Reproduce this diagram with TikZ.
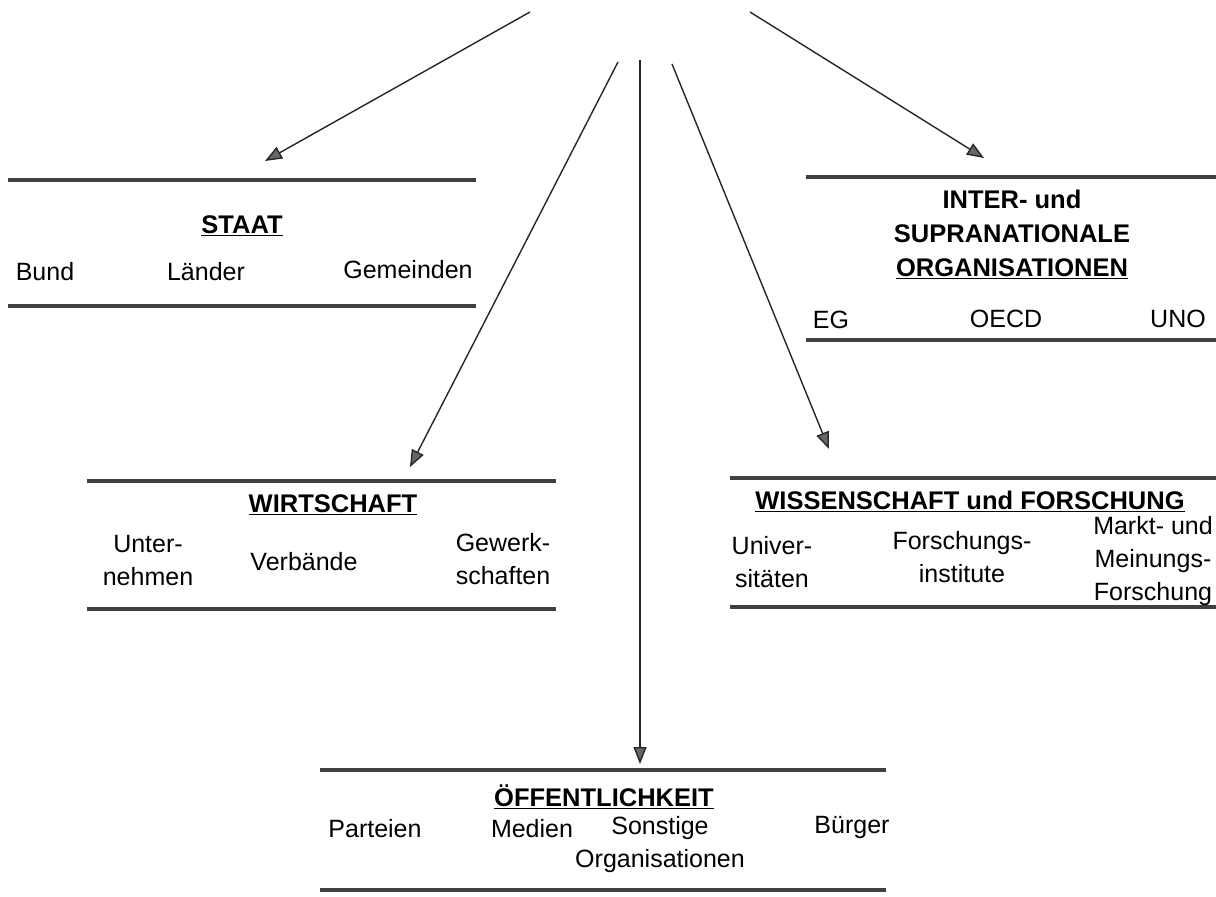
\documentclass[tikz,border=0pt]{standalone}
\usepackage{fontspec}
\setmainfont{Liberation Sans}
\usetikzlibrary{arrows.meta}
\tikzset{
  rulebar/.style={line width=3.8pt, draw=black!75},
  conn/.style={line width=1.4pt, draw=black!85, -{Triangle[length=17pt,width=13pt,fill=black!60]}},
  title/.style={font=\fontsize{25.5}{34}\selectfont\bfseries, align=center, inner sep=0pt},
  item/.style={font=\fontsize{25}{33}\selectfont, align=center, inner sep=0pt},
}
\begin{document}
\begin{tikzpicture}[x=1pt,y=-1pt]
\useasboundingbox (0,0) rectangle (1216,897);
% sources and targets
\coordinate (s1) at (530,12);
\coordinate (s2) at (750,12);
\coordinate (s3) at (618,62);
\coordinate (s4) at (640,60);
\coordinate (s5) at (672,64);
\coordinate (t1) at (265,161);
\coordinate (t2) at (984,158);
\coordinate (t3) at (410,467);
\coordinate (t4) at (640,764);
\coordinate (t5) at (829,449);
\draw[conn] (s1) -- (t1);
\draw[conn] (s2) -- (t2);
\draw[conn] (s3) -- (t3);
\draw[conn] (s4) -- (t4);
\draw[conn] (s5) -- (t5);
% STAAT
\draw[rulebar] (8,180) -- (476,180);
\draw[rulebar] (8,306) -- (476,306);
\node[title] (staat) at (242,226) {\underline{STAAT}};
\node[item] (bund) at (45,272) {Bund};
\node[item] (laender) at (206,272) {Länder};
\node[item] (gemeinden) at (408,270) {Gemeinden};
% INTER
\draw[rulebar] (806,177) -- (1216,177);
\draw[rulebar] (806,340) -- (1216,340);
\node[title] (inter) at (1012,234) {INTER- und\\SUPRANATIONALE\\\underline{ORGANISATIONEN}};
\node[item] (eg) at (831,320) {EG};
\node[item] (oecd) at (1006,319) {OECD};
\node[item] (uno) at (1178,319) {UNO};
% WIRTSCHAFT
\draw[rulebar] (87,481) -- (556,481);
\draw[rulebar] (87,609) -- (556,609);
\node[title] (wirt) at (333,505) {\underline{WIRTSCHAFT}};
\node[item] (unter) at (148,561) {Unter-\\nehmen};
\node[item] (verb) at (304,562) {Verbände};
\node[item] (gew) at (503,559) {Gewerk-\\schaften};
% WISSENSCHAFT
\draw[rulebar] (730,478) -- (1216,478);
\draw[rulebar] (730,607) -- (1216,607);
\node[title] (wiss) at (970,501) {\underline{WISSENSCHAFT und FORSCHUNG}};
\node[item] (uni) at (772,562) {Univer-\\sitäten};
\node[item] (finst) at (962,557) {Forschungs-\\institute};
\node[item] (markt) at (1153,561) {Markt- und\\Meinungs-\\Forschung};
% OEFFENTLICHKEIT
\draw[rulebar] (320,770) -- (886,770);
\draw[rulebar] (320,890) -- (886,890);
\node[title] (oeff) at (604,797) {\underline{ÖFFENTLICHKEIT}};
\node[item] (part) at (375,829) {Parteien};
\node[item] (med) at (532,829) {Medien};
\node[item] (sonst) at (660,845) {Sonstige\\Organisationen};
\node[item] (buerger) at (852,827) {Bürger};
\end{tikzpicture}
\end{document}
